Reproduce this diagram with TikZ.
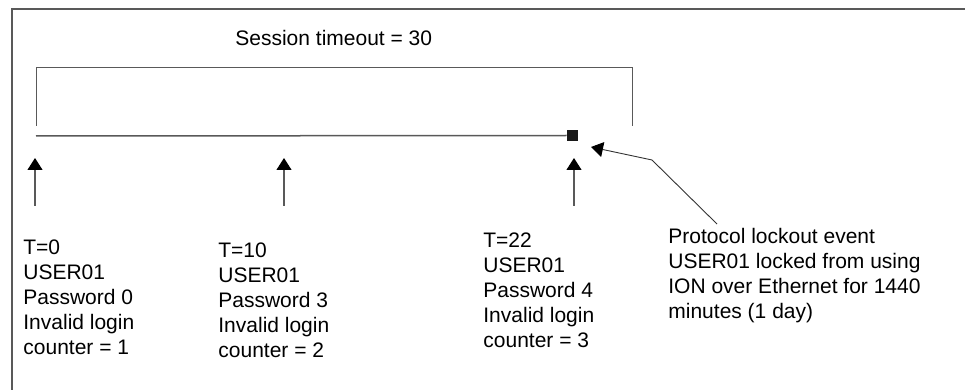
\documentclass[tikz,border=0pt]{standalone}
\usepackage{fontspec}
\setmainfont{Liberation Sans}
\usetikzlibrary{arrows.meta,positioning}

\begin{document}
\begin{tikzpicture}[
    x=0.5pt, y=-0.5pt,
    label/.style={anchor=north west, inner sep=0pt, align=left, font=\fontsize{10.5}{12.5}\selectfont},
    line/.style={draw=black!65, line width=0.6pt},
    arrow/.style={-{Triangle[length=6pt, width=7.5pt, color=black]}, draw=black!65, line width=0.55pt}
]
\useasboundingbox (0,0) rectangle (965,390);
\draw[line, line width=0.8pt] (12,390) -- (12,9) -- (965,9);

\node[label] (timeout) at (235,30) {Session timeout = 30};

\coordinate (start) at (36,136);
\coordinate (bl) at (36,126);
\coordinate (br) at (632,126);
\node[fill=black!90, minimum size=5.5pt, inner sep=0pt] (lock) at (572.5,135.5) {};

\draw[line, line width=0.5pt] (bl) -- ++(0,-58) -| (br);
\draw[line, line width=0.75pt] (start) -- (lock.west);

\node[label] (t0) at (23,239) {T=0\\USER01\\Password 0\\Invalid login\\counter = 1};
\node[label] (t10) at (218,242) {T=10\\USER01\\Password 3\\Invalid login\\counter = 2};
\node[label] (t22) at (483,232) {T=22\\USER01\\Password 4\\Invalid login\\counter = 3};
\node[label] (lockout) at (668,228) {Protocol lockout event\\USER01 locked from using\\ION over Ethernet for 1440\\minutes (1 day)};

\foreach \x/\n in {35/a, 284/b, 574/c} {
    \coordinate (from\n) at (\x,206);
    \coordinate (to\n) at (\x,158);
    \draw[arrow] (from\n) -- (to\n);
}

\coordinate (src) at (717,224);
\coordinate (bend) at (652,160);
\coordinate (tip) at (591,147);
\draw[arrow, line width=0.45pt, draw=black!80] (src) -- (bend) -- (tip);

\end{tikzpicture}
\end{document}
